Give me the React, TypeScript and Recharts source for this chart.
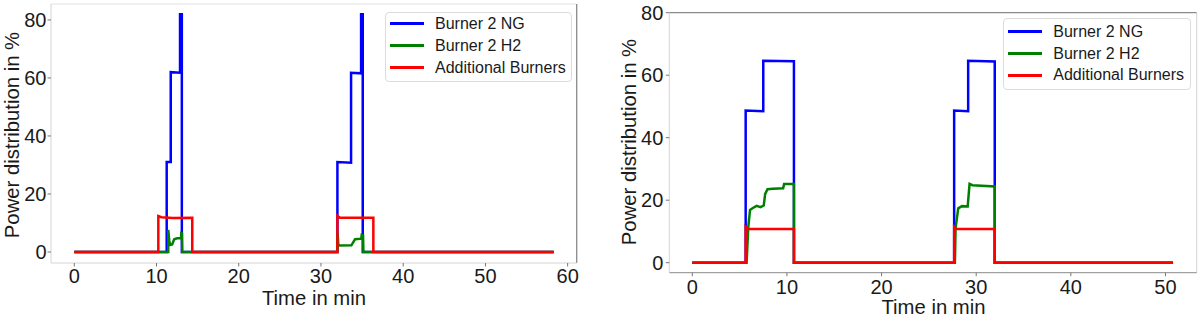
import React from "react";
import { LineChart, Line, XAxis, YAxis, ReferenceLine } from "recharts";

type P = { t: number; v: number };

// ---------- Left chart data (time in min, power %) ----------
const leftNG: P[] = [
  { t: 0, v: 0 }, { t: 11.24, v: 0 }, { t: 11.24, v: 31 }, { t: 11.73, v: 31 },
  { t: 11.73, v: 62 }, { t: 12.86, v: 61.8 }, { t: 12.86, v: 82 }, { t: 12.94, v: 82 },
  { t: 12.94, v: 62 }, { t: 13.0, v: 62 }, { t: 13.0, v: 82 }, { t: 13.08, v: 82 },
  { t: 13.08, v: 0 }, { t: 32.0, v: 0 }, { t: 32.0, v: 31 }, { t: 33.66, v: 30.8 },
  { t: 33.66, v: 61.8 }, { t: 34.88, v: 61.6 }, { t: 34.88, v: 82 }, { t: 34.95, v: 82 },
  { t: 34.95, v: 62 }, { t: 35.0, v: 62 }, { t: 35.0, v: 82 }, { t: 35.08, v: 82 },
  { t: 35.08, v: 0 }, { t: 58.3, v: 0 },
];
const leftH2: P[] = [
  { t: 0, v: 0 }, { t: 11.43, v: 0 }, { t: 11.43, v: 7.6 }, { t: 11.55, v: 4 },
  { t: 11.65, v: 2.4 }, { t: 11.9, v: 2.6 }, { t: 12.15, v: 4.4 }, { t: 12.5, v: 4.7 },
  { t: 12.98, v: 4.8 }, { t: 13.02, v: 6.5 }, { t: 13.1, v: 6.4 }, { t: 13.14, v: 0 },
  { t: 32.0, v: 0 }, { t: 32.02, v: 6.5 }, { t: 32.12, v: 2.2 }, { t: 33.7, v: 2.3 },
  { t: 34.15, v: 4.4 }, { t: 34.9, v: 4.6 }, { t: 34.96, v: 5.9 }, { t: 35.12, v: 5.7 },
  { t: 35.16, v: 0 }, { t: 58.3, v: 0 },
];
const leftAdd: P[] = [
  { t: 0, v: 0 }, { t: 10.22, v: 0 }, { t: 10.22, v: 12.4 }, { t: 10.6, v: 12 },
  { t: 12.0, v: 11.7 }, { t: 14.35, v: 11.8 }, { t: 14.35, v: 0 }, { t: 32.0, v: 0 },
  { t: 32.0, v: 12.5 }, { t: 32.3, v: 11.8 }, { t: 36.37, v: 11.8 }, { t: 36.37, v: 0 },
  { t: 58.3, v: 0 },
];

// ---------- Right chart data ----------
const rightNG: P[] = [
  { t: 0, v: 0 }, { t: 5.64, v: 0 }, { t: 5.64, v: 48.7 }, { t: 7.5, v: 48.5 },
  { t: 7.5, v: 64.6 }, { t: 10.74, v: 64.5 }, { t: 10.74, v: 0 }, { t: 27.67, v: 0 },
  { t: 27.67, v: 48.7 }, { t: 29.15, v: 48.5 }, { t: 29.15, v: 64.6 }, { t: 31.96, v: 64.4 },
  { t: 31.96, v: 0 }, { t: 50.8, v: 0 },
];
const rightH2: P[] = [
  { t: 0, v: 0 }, { t: 5.74, v: 0 }, { t: 5.8, v: 4 }, { t: 5.92, v: 11.5 },
  { t: 6.1, v: 16.9 }, { t: 6.4, v: 17.5 }, { t: 6.8, v: 18.2 }, { t: 7.2, v: 17.8 },
  { t: 7.55, v: 18.3 }, { t: 7.7, v: 22 }, { t: 7.95, v: 23.5 }, { t: 8.5, v: 23.7 },
  { t: 9.6, v: 23.8 }, { t: 9.7, v: 25.2 }, { t: 10.74, v: 25.2 }, { t: 10.74, v: 0 },
  { t: 27.75, v: 0 }, { t: 27.82, v: 11 }, { t: 28.1, v: 17.4 }, { t: 28.5, v: 18.1 },
  { t: 29.1, v: 18 }, { t: 29.3, v: 25.2 }, { t: 29.6, v: 24.8 }, { t: 31.96, v: 24.4 },
  { t: 31.96, v: 0 }, { t: 50.8, v: 0 },
];
const rightAdd: P[] = [
  { t: 0, v: 0 }, { t: 5.64, v: 0 }, { t: 5.64, v: 11.5 }, { t: 5.9, v: 10.8 },
  { t: 10.74, v: 10.8 }, { t: 10.74, v: 0 }, { t: 27.67, v: 0 }, { t: 27.67, v: 11.5 },
  { t: 27.9, v: 10.8 }, { t: 31.96, v: 10.8 }, { t: 31.96, v: 0 }, { t: 50.8, v: 0 },
];

const leftXTicks = [0, 10, 20, 30, 40, 50, 60];
const rightXTicks = [0, 10, 20, 30, 40, 50];
const yTicks = [0, 20, 40, 60, 80];
const seriesNames = ["Burner 2 NG", "Burner 2 H2", "Additional Burners"];
const seriesColors = ["#0000ff", "#008000", "#ff0000"];
const xTitle = "Time in min";
const yTitle = "Power distribution in %";

const leftXDomain: [number, number] = [-2.83, 61.1];
const leftYDomain: [number, number] = [-3.8, 85.5];
const rightXDomain: [number, number] = [-2.43, 53.3];
const rightYDomain: [number, number] = [-3.2, 80];

const FONT = "'Liberation Sans', Arial, sans-serif";
const tickStyle = { fill: "#1a1a1a", fontSize: 20, fontFamily: FONT };

function LegendBox({ left, top, width, height, rowH, firstC }: any) {
  return (
    <div
      style={{
        position: "absolute", left, top, width, height, boxSizing: "border-box",
        border: "1px solid #dcdcdc", borderRadius: 4, background: "rgba(255,255,255,0.85)",
        fontFamily: FONT, fontSize: 16, color: "#1a1a1a",
      }}
    >
      {seriesNames.map((n, i) => (
        <div
          key={n}
          style={{
            position: "absolute", left: 4, top: firstC + i * rowH - 10, height: 20,
            display: "flex", alignItems: "center", whiteSpace: "nowrap",
          }}
        >
          <div style={{ width: 34, height: 3, background: seriesColors[i], marginRight: 11 }} />
          <span>{n}</span>
        </div>
      ))}
    </div>
  );
}

function Titles({ xc, xy, yx, yc }: any) {
  return (
    <>
      <div
        style={{
          position: "absolute", left: xc - 100, top: xy - 10, width: 200, height: 20,
          lineHeight: "20px", textAlign: "center", fontFamily: FONT, fontSize: 20.3, color: "#1a1a1a",
        }}
      >
        {xTitle}
      </div>
      <div
        style={{
          position: "absolute", left: yx - 130, top: yc - 10, width: 260, height: 20,
          lineHeight: "20px", textAlign: "center", fontFamily: FONT, fontSize: 20.3, color: "#1a1a1a",
          transform: "rotate(-90deg)",
        }}
      >
        {yTitle}
      </div>
    </>
  );
}

function series(ng: P[], h2: P[], add: P[]) {
  return [ng, h2, add].map((d, i) => (
    <Line
      key={i}
      data={d}
      dataKey="v"
      type="linear"
      stroke={seriesColors[i]}
      strokeWidth={2.5}
      dot={false}
      activeDot={false}
      isAnimationActive={false}
    />
  ));
}

export default function App() {
  return (
    <div style={{ position: "absolute", left: 0, top: 0, width: 1200, height: 317, background: "#fff", overflow: "hidden" }}>
      <div style={{ position: "absolute", left: 0, top: 0 }}>
        <LineChart width={600} height={317} margin={{ top: 4, right: 23.3, bottom: 24, left: 0 }}>
          <XAxis
            dataKey="t" type="number" domain={leftXDomain} ticks={leftXTicks} allowDataOverflow
            height={30} tick={tickStyle} tickSize={3.5} tickMargin={2}
            axisLine={{ stroke: "#d4d4d4" }} tickLine={{ stroke: "#777" }} interval={0}
          />
          <YAxis
            type="number" domain={leftYDomain} ticks={yTicks} allowDataOverflow width={51}
            tick={tickStyle} tickSize={3.5} tickMargin={1} axisLine={{ stroke: "#d4d4d4" }}
            tickLine={{ stroke: "#777" }} interval={0}
          />
          <ReferenceLine y={leftYDomain[1]} stroke="#e2e2e2" strokeWidth={1} ifOverflow="extendDomain" />
          <ReferenceLine x={leftXDomain[1]} stroke="#8a8a8a" strokeWidth={1.3} ifOverflow="extendDomain" />
          {series(leftNG, leftH2, leftAdd)}
        </LineChart>
      </div>
      <Titles xc={314} xy={297.5} yx={11.5} yc={135} />
      <LegendBox left={385} top={11.5} width={187} height={70.5} rowH={22} firstC={11} />

      <div style={{ position: "absolute", left: 600, top: 0 }}>
        <LineChart width={600} height={317} margin={{ top: 12.7, right: 3.3, bottom: 14.3, left: 0 }}>
          <XAxis
            dataKey="t" type="number" domain={rightXDomain} ticks={rightXTicks} allowDataOverflow
            height={30} tick={tickStyle} tickSize={3.5} tickMargin={3.5}
            axisLine={{ stroke: "#8a8a8a" }} tickLine={{ stroke: "#777" }} interval={0}
          />
          <YAxis
            type="number" domain={rightYDomain} ticks={yTicks} allowDataOverflow width={69.3}
            tick={tickStyle} tickSize={3.5} tickMargin={2.5} axisLine={{ stroke: "#d4d4d4" }}
            tickLine={{ stroke: "#777" }} interval={0}
          />
          <ReferenceLine y={rightYDomain[1]} stroke="#8a8a8a" strokeWidth={1.3} ifOverflow="extendDomain" />
          <ReferenceLine x={rightXDomain[1]} stroke="#d4d4d4" strokeWidth={1} ifOverflow="extendDomain" />
          {series(rightNG, rightH2, rightAdd)}
        </LineChart>
      </div>
      <Titles xc={933.5} xy={307} yx={629} yc={142} />
      <LegendBox left={1003.3} top={18.3} width={188} height={71.7} rowH={21.7} firstC={12.6} />
    </div>
  );
}
